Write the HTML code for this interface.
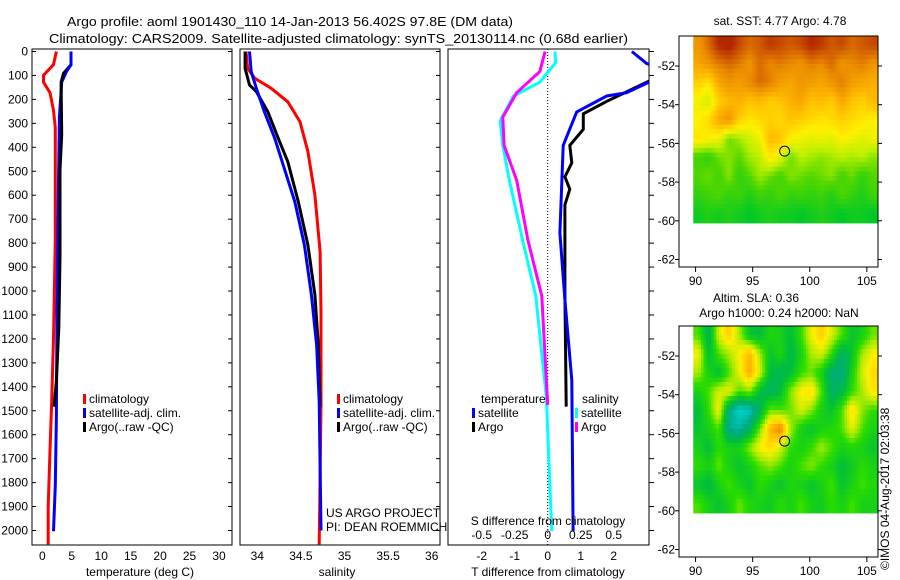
<!DOCTYPE html>
<html><head><meta charset="utf-8"><style>
body{margin:0;background:#fff}
svg{display:block;font-family:"Liberation Sans",sans-serif;font-size:12px}
</style></head><body>
<svg id="chart" width="900" height="580" viewBox="0 0 900 580" xmlns="http://www.w3.org/2000/svg">
<rect width="900" height="580" fill="#fff"/>
<text x="67" y="26" font-size="13" textLength="446" lengthAdjust="spacingAndGlyphs">Argo profile: aoml 1901430_110 14-Jan-2013 56.402S 97.8E (DM data)</text>
<text x="49" y="43" font-size="13" textLength="579" lengthAdjust="spacingAndGlyphs">Climatology: CARS2009. Satellite-adjusted climatology: synTS_20130114.nc (0.68d earlier)</text>
<g id="g"></g>
<text transform="translate(889,570) rotate(-90)" font-size="12">©IMOS 04-Aug-2017 02:03:38</text>
</svg>
<script>
// ---- temperature panel data ----
const tClimDepth=[0,55,99,128,172,245,318,787,1197,1461,1666,1900,2058];
const tClimVal=[2.4,1.9,0.2,0.2,1.3,1.9,2.2,2.2,1.9,1.6,1.3,1.0,1.0];
const tSatDepth=[0,55,84,128,274,640,1080,1520,1812,2003];
const tSatVal=[4.87,4.87,4.1,3.3,2.9,2.7,2.5,2.4,2.2,1.9];
const tArgoDepth=[0,55,91,128,348,494,860,1153,1373,1483];
const tArgoVal=[4.87,4.87,3.6,3.2,3.3,3.0,3.0,2.8,2.4,2.0];
// ---- salinity panel data ----
const sClimDepth=[0,70,112,154,210,293,418,599,836,1086,1476,2058];
const sClimVal=[33.87,33.89,33.97,34.16,34.35,34.49,34.58,34.66,34.72,34.73,34.73,34.71];
const sSatDepth=[0,84,154,251,362,488,627,808,1016,1225,1462,2000];
const sSatVal=[33.91,33.93,33.99,34.08,34.20,34.31,34.43,34.54,34.62,34.68,34.71,34.73];
const sArgoDepth=[0,70,140,168,251,362,460,627,808,1016,1225,1483];
const sArgoVal=[33.86,33.86,33.91,33.99,34.12,34.24,34.35,34.47,34.58,34.66,34.70,34.72];
// ---- difference panel data ----
const dTSatDepth=[0,50,80,113,172,186,252,392,758,1036,1373,2003];
const dTSatVal=[2.55,3.0,3.6,3.3,2.39,1.79,0.88,0.47,0.37,0.52,0.73,0.77];
const dTArgoDepth=[90,128,208,260,325,392,465,523,575,640,1007,1483];
const dTArgoVal=[3.6,3.0,1.79,1.08,1.08,0.67,0.73,0.52,0.67,0.52,0.52,0.56];
const dSSatDepth=[0,47,128,186,289,392,538,787,1021,1446,2003];
const dSSatVal=[0.055,0.06,-0.06,-0.26,-0.36,-0.34,-0.29,-0.19,-0.09,-0.01,0.03];
const dSArgoDepth=[0,84,172,274,392,538,787,1021,1476];
const dSArgoVal=[-0.02,-0.06,-0.235,-0.34,-0.33,-0.235,-0.15,-0.045,0.0];
// ---- tick labels ----
const depthTicks=[0,100,200,300,400,500,600,700,800,900,1000,1100,1200,1300,1400,1500,1600,1700,1800,1900,2000];
const tempTicks=[0,5,10,15,20,25,30];
const salTicks=[34,34.5,35,35.5,36];
const dTTicks=[-2,-1,0,1,2];
const dSTicks=[-0.5,-0.25,0,0.25,0.5];
const lonTicks=[90,95,100,105];
const latTicks=[-52,-54,-56,-58,-60,-62];
// ---- map data (rows from north -51 to south -60, 18 cols 90..107E) ----
const sstGrid=[
[2.2,2.5,2.9,3,2.7,2.5,2.6,2.8,2.7,2.6,2.7,2.9,2.8,2.6,2.7,2.5,2.6,2.7],
[2.0,2.2,2.4,2.5,2.4,2.2,2.5,2.3,2.4,2.3,2.2,2.4,2.3,2.5,2.2,2.3,2.4,2.2],
[1.6,1.4,2.0,2.2,2.1,2.3,2.5,2.4,2.1,2.0,2.2,2.1,2.0,2.2,2.4,2.1,2.0,1.9],
[1.2,1.0,1.6,1.8,1.9,1.7,1.8,1.6,1.7,1.9,2.0,1.7,1.8,1.6,2.0,1.7,1.6,1.8],
[1.3,1.5,2.0,2.2,1.6,1.4,1.5,1.6,1.5,1.7,1.6,1.5,1.4,1.5,1.6,1.5,1.4,1.3],
[1.4,1.3,1.2,0.6,0.8,1.0,1.2,1.8,1.7,1.3,1.2,1.1,1.2,1.1,1.3,1.2,1.1,1.2],
[0.4,0.3,0.6,0.7,0.5,0.8,0.9,1.4,1.1,0.6,0.9,0.8,0.7,0.8,0.9,0.8,0.9,0.7],
[0.5,0.6,0.4,0.7,0.3,0.5,0.8,0.6,0.4,0.7,0.6,0.5,0.6,0.7,0.4,0.6,0.3,0.5],
[0.3,0.4,0.5,0.3,0.4,0.2,0.4,0.3,0.5,0.3,0.4,0.3,0.4,0.2,0.5,0.3,0.2,0.4],
[0.1,0.2,0.1,0.2,0.1,0.0,0.1,0.2,0.1,0.1,0.0,0.1,0.2,0.1,0.0,0.1,0.1,0.0]];
const slaGrid=[
[0.3,-0.5,0.8,1.3,0.6,-0.2,-0.3,0.1,0.0,-0.3,0.2,0.9,1.3,0.8,0.3,-0.2,0.0,0.4],
[1.0,-0.3,0.3,0.6,1.0,1.5,0.6,-0.2,0.1,-0.4,0.0,0.6,0.8,0.2,-0.6,-0.2,0.6,1.0],
[0.6,0.0,-0.3,0.3,0.9,1.6,0.8,-0.3,-0.5,-0.3,0.2,0.4,0.0,-0.7,-0.8,0.0,0.8,1.2],
[0.0,0.3,0.8,0.9,0.3,0.5,-0.3,-0.6,-0.3,0.5,1.0,1.2,0.3,-0.6,-0.4,0.2,0.6,1.1],
[-0.3,0.2,1.0,-0.8,-1.3,-1.2,-0.5,0.4,0.3,0.4,0.8,0.5,0.0,-0.2,0.3,1.2,0.5,0.2],
[-0.2,0.0,0.3,-0.9,-1.0,-0.6,0.4,1.5,1.9,0.6,0.0,-0.2,0.0,0.1,0.3,0.9,0.3,0.0],
[0.0,-0.3,0.2,0.0,0.0,0.5,1.0,1.2,0.8,0.2,0.0,0.2,0.6,0.3,0.0,0.1,0.0,-0.2],
[0.2,0.0,0.4,0.0,-0.2,0.0,0.3,0.5,0.3,0.0,0.3,0.5,0.2,0.0,-0.3,-0.1,0.2,0.0],
[-0.2,-0.4,0.0,0.3,0.0,-0.2,0.2,0.0,-0.2,0.1,0.0,-0.2,0.0,0.3,-0.2,0.0,0.3,0.1],
[0.3,0.0,-0.2,0.0,0.4,0.1,0.0,-0.1,0.2,0.0,0.3,0.0,-0.1,0.2,0.0,0.3,0.0,0.0]];
const argoLon=97.8, argoLat=-56.4;

const NS="http://www.w3.org/2000/svg";
const G=document.getElementById('g');
function mk(tag,attrs,parent){const e=document.createElementNS(NS,tag);for(const k in attrs)e.setAttribute(k,attrs[k]);(parent||G).appendChild(e);return e;}
function txt(x,y,s,anchor,parent,size){const e=mk('text',{x:x,y:y,'text-anchor':anchor||'start','font-size':size||12},parent);e.textContent=s;return e;}

const TOP=49,BOT=545;
const yD=d=>51.5+d*0.2395;
const xT=v=>42.3+v*5.89;
const xS=v=>257.3+(v-34)*87.2;
const xDT=v=>547.7+v*33;
const xDS=v=>547.7+v*132;

function frame(x0,x1,name){
  const r=mk('rect',{x:x0,y:TOP,width:x1-x0,height:BOT-TOP,fill:'none',stroke:'#000','stroke-width':1});
  
  
  depthTicks.forEach(d=>{mk('line',{x1:x1,x2:x1+(name==='diff-panel-frame'?5:-4),y1:yD(d),y2:yD(d),stroke:'#000'});});
}
function line(depths,vals,xf,color,name,clip){
  const pts=depths.map((d,i)=>xf(vals[i]).toFixed(1)+','+yD(d).toFixed(1)).join(' ');
  const p=mk('polyline',{points:pts,fill:'none',stroke:color,'stroke-width':3,'stroke-linejoin':'miter'});
  if(clip)p.setAttribute('clip-path','url(#'+clip+')');
  
  
}
const defs=mk('defs',{});
const cp=mk('clipPath',{id:'c3'},defs);mk('rect',{x:448,y:TOP,width:201,height:BOT-TOP},cp);

// panel 1
frame(32,232,'temperature-panel-frame');
depthTicks.forEach(d=>{const t=txt(28,yD(d)+4,String(d),'end');mk('line',{x1:32,x2:36,y1:yD(d),y2:yD(d),stroke:'#000'});});
tempTicks.forEach(v=>{const t=txt(xT(v),560,String(v),'middle');});
txt(140,576,'temperature (deg C)','middle');
line(tClimDepth,tClimVal,xT,'#f00','temperature-climatology-line');
line(tSatDepth,tSatVal,xT,'#00f','temperature-satellite-line');
line(tArgoDepth,tArgoVal,xT,'#000','temperature-argo-line');
line(tSatDepth.slice(0,3),tSatVal.slice(0,3),xT,'#00f','temperature-satellite-top');

// panel 2
frame(240,440,'salinity-panel-frame');
salTicks.forEach(v=>{const t=txt(xS(v),560,String(v),'middle');});
txt(337,576,'salinity','middle');
line(sClimDepth,sClimVal,xS,'#f00','salinity-climatology-line');
line(sArgoDepth,sArgoVal,xS,'#000','salinity-argo-line');
line(sSatDepth,sSatVal,xS,'#00f','salinity-satellite-line');
txt(326,517,'US ARGO PROJECT','start');
txt(326,531,'PI: DEAN ROEMMICH','start');

// legends
function legend(x,y,color,label){
  mk('rect',{x:x,y:y-9,width:3,height:10,fill:color});
  const t=txt(x+6,y,label,'start');
  
  
}
legend(83,403,'#f00','climatology');legend(83,417,'#00f','satellite-adj. clim.');legend(83,431,'#000','Argo(..raw -QC)');
legend(337,403,'#f00','climatology');legend(337,417,'#00f','satellite-adj. clim.');legend(337,431,'#000','Argo(..raw -QC)');

// panel 3
frame(448,649,'diff-panel-frame');
mk('line',{x1:xDT(0),x2:xDT(0),y1:TOP,y2:BOT,stroke:'#000','stroke-dasharray':'1,2'});
line(dSSatDepth,dSSatVal,xDS,'#0ff','salinity-diff-satellite-line','c3');
line(dSArgoDepth,dSArgoVal,xDS,'#f0f','salinity-diff-argo-line','c3');
line(dTArgoDepth,dTArgoVal,xDT,'#000','temperature-diff-argo-line','c3');
line(dTSatDepth,dTSatVal,xDT,'#00f','temperature-diff-satellite-line','c3');
dTTicks.forEach(v=>{const t=txt(xDT(v),560,String(v),'middle');});
dSTicks.forEach(v=>{const t=txt(xDS(v),539,String(v),'middle');});
txt(548,525,'S difference from climatology','middle');
txt(548,576,'T difference from climatology','middle');
txt(481,403,'temperature','start');
txt(582,403,'salinity','start');
legend(472,417,'#00f','satellite');legend(472,431,'#000','Argo');
legend(575,417,'#0ff','satellite');legend(575,431,'#f0f','Argo');

// maps
function lerp(a,b,t){return a.map((v,i)=>Math.round(v+(b[i]-v)*t));}
function scale(stops,v){
  if(v<=stops[0][0])return stops[0][1];
  for(let i=1;i<stops.length;i++){if(v<=stops[i][0]){const t=(v-stops[i-1][0])/(stops[i][0]-stops[i-1][0]);return lerp(stops[i-1][1],stops[i][1],t);}}
  return stops[stops.length-1][1];
}
function sample(grid,fr,fc){
  const R=grid.length,C=grid[0].length;
  fr=Math.max(0,Math.min(R-1,fr));fc=Math.max(0,Math.min(C-1,fc));
  const r0=Math.floor(fr),c0=Math.floor(fc),r1=Math.min(R-1,r0+1),c1=Math.min(C-1,c0+1);
  const tr=fr-r0,tc=fc-c0;
  const a=grid[r0][c0]*(1-tc)+grid[r0][c1]*tc,b=grid[r1][c0]*(1-tc)+grid[r1][c1]*tc;
  return a*(1-tr)+b*tr;
}
const sstStops=[[0,[0,200,40]],[0.5,[80,215,0]],[0.9,[190,240,0]],[1.3,[255,240,0]],[1.8,[255,185,0]],[2.3,[235,140,0]],[2.9,[180,40,0]]];
const slaStops=[[-1.4,[0,220,220]],[-0.8,[0,170,130]],[-0.3,[0,190,60]],[0.2,[40,220,0]],[0.6,[170,235,0]],[1,[255,240,0]],[1.5,[255,180,0]],[2,[220,110,0]]];
function map(y0,grid,stops,name,titles){
  const x0=679,x1=878,y1=y0+231;
  const xL=lon=>x0+(lon-88.55)*11.42;
  const yL=lat=>y0+(-50.45-lat)*19.35;
  const g=mk('g',{});
  
  
  const rows=grid.length,cols=grid[0].length,SUB=4;
  const lonA=89.8,lonB=105.95,latA=-50.45,latB=-60.1;
  const NR=rows*SUB,NC=cols*SUB;
  for(let r=0;r<NR;r++)for(let c=0;c<NC;c++){
    const xa=xL(lonA+(lonB-lonA)*c/NC),xb=xL(lonA+(lonB-lonA)*(c+1)/NC);
    const ya=yL(latA+(latB-latA)*r/NR),yb=yL(latA+(latB-latA)*(r+1)/NR);
    const v=sample(grid,(r+0.5)/SUB-0.5,(c+0.5)/SUB-0.5);
    const col=scale(stops,v);
    mk('rect',{x:xa.toFixed(1),y:ya.toFixed(1),width:(xb-xa+0.6).toFixed(1),height:(yb-ya+0.6).toFixed(1),fill:'rgb('+col.join(',')+')'},g);
  }
  mk('rect',{x:x0,y:y0,width:x1-x0,height:y1-y0,fill:'none',stroke:'#000'},g);
  const circ=mk('ellipse',{cx:xL(argoLon),cy:yL(argoLat),rx:5,ry:5,fill:'none',stroke:'#000','stroke-width':1},g);
  
  
  lonTicks.forEach(l=>{mk('line',{x1:xL(l),x2:xL(l),y1:y1,y2:y1+5,stroke:'#000'},g);const t=txt(xL(l),y1+18,String(l),'middle',g);});
  latTicks.forEach(l=>{mk('line',{x1:x0-4,x2:x0,y1:yL(l),y2:yL(l),stroke:'#000'},g);mk('line',{x1:x1,x2:x1+4,y1:yL(l),y2:yL(l),stroke:'#000'},g);const t=txt(x0-4,yL(l)+4,String(l),'end',g);});
  titles.forEach((s,i)=>{const t=txt(s[1],s[2],s[0],'middle',g);});
}
map(36,sstGrid,sstStops,'sst-map',[['sat. SST: 4.77  Argo: 4.78',780,25]]);
map(326,slaGrid,slaStops,'sla-map',[['Altim. SLA: 0.36',756,302],['Argo h1000: 0.24  h2000: NaN',779,317]]);
</script>
</body></html>
